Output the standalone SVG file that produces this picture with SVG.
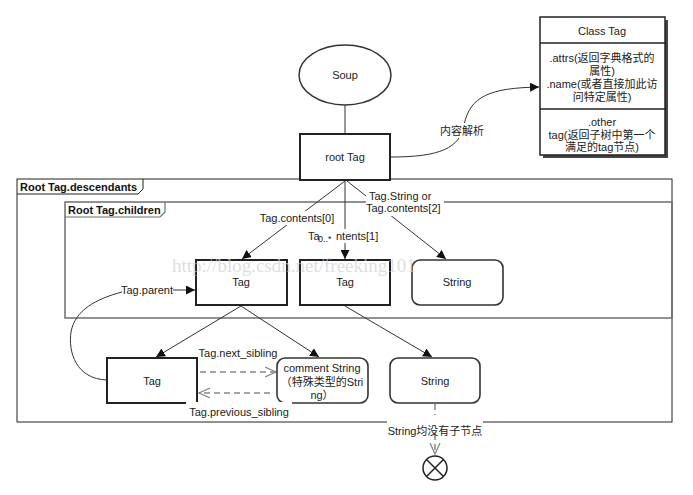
<svg xmlns="http://www.w3.org/2000/svg" width="693" height="495" viewBox="0 0 693 495">
<defs>
<style>
text{font-family:"Liberation Sans","Noto Sans CJK SC",sans-serif;font-size:11px;fill:#222}
.c{text-anchor:middle}
.b{font-weight:bold;fill:#111}
.box{fill:#fff;stroke:#222;stroke-width:2}
.rbox{fill:#fff;stroke:#333;stroke-width:1.6}
.ln{fill:none;stroke:#333;stroke-width:1}
.dash{fill:none;stroke:#888;stroke-width:1.5;stroke-dasharray:6,4}
.bg{fill:#fff}
.wm{font-family:"Liberation Serif",serif;font-size:19px;fill:#cfcfcf;fill-opacity:0.7}
</style>
<marker id="af" viewBox="0 0 10 10" refX="10" refY="5" markerWidth="9" markerHeight="9" markerUnits="userSpaceOnUse" orient="auto">
<path d="M0,0 L10,5 L0,10 z" fill="#111"/>
</marker>
<marker id="ao" viewBox="0 0 12 12" refX="11" refY="6" markerWidth="12" markerHeight="12" markerUnits="userSpaceOnUse" orient="auto">
<path d="M0,1 L11,6 L0,11" fill="none" stroke="#888" stroke-width="1.3"/>
</marker>
</defs>
<rect width="693" height="495" fill="#fff"/>

<g id="frame-descendants">
<rect x="17" y="179" width="655" height="243" fill="none" stroke="#222" stroke-width="1"/>
<path d="M17,194 L138,194 L143,189 L143,179" fill="none" stroke="#222" stroke-width="1"/>
<text x="20" y="191" class="b">Root Tag.descendants</text>
</g>
<g id="frame-children">
<rect x="65" y="202" width="607" height="116" fill="none" stroke="#6e6e6e" stroke-width="1.5"/>
<path d="M65,217 L160,217 L165,212 L165,202" fill="none" stroke="#6e6e6e" stroke-width="1.2"/>
<text x="68" y="214" class="b">Root Tag.children</text>
</g>

<g id="connectors">
<path class="ln" d="M345,105 L345,134" stroke="#444"/>
<path class="ln" d="M391,157 C440,157 460,148 464,125 C470,96 490,88 539,87" marker-end="url(#af)"/>
<path class="ln" d="M345,181 L242,259" marker-end="url(#af)"/>
<path class="ln" d="M345,181 L345,259" marker-end="url(#af)"/>
<path class="ln" d="M347,181 L446,259" marker-end="url(#af)"/>
<path class="ln" d="M241,306 L156,357" marker-end="url(#af)"/>
<path class="ln" d="M241,306 L319,357" marker-end="url(#af)"/>
<path class="ln" d="M345,306 L432,357" marker-end="url(#af)"/>
<path class="dash" d="M200,372 L276,372" marker-end="url(#ao)"/>
<path class="dash" d="M270,393 L199,393" marker-end="url(#ao)"/>
<path class="ln" d="M107,380 C76,379 68,352 71,332 C75,310 96,299 122,292"/>
<path class="ln" d="M173,290 L195,290" marker-end="url(#af)"/>
<path class="dash" d="M435,404 L435,454" marker-end="url(#ao)"/>

<rect class="bg" x="436" y="123" width="52" height="15"/>
<text x="462" y="135" class="c">内容解析</text>
<rect class="bg" x="258" y="211" width="78" height="14"/>
<text x="297" y="222" class="c">Tag.contents[0]</text>
<rect class="bg" x="307" y="229" width="80" height="14"/>
<text x="308" y="240">Ta</text>
<text x="318" y="242" style="font-size:9px">0..*</text>
<text x="336" y="240">ntents[1]</text>
<rect class="bg" x="366" y="190" width="78" height="26"/>
<text x="369" y="200">Tag.String or</text>
<text x="366" y="212">Tag.contents[2]</text>
<text x="121" y="294">Tag.parent</text>
<text x="238" y="357" class="c">Tag.next_sibling</text>
</g>

<g id="soup">
<ellipse cx="345" cy="75" rx="46" ry="30" fill="#fff" stroke="#333" stroke-width="1.5"/>
<text x="345" y="79" class="c">Soup</text>
</g>
<g id="root-tag">
<rect class="box" x="300" y="134" width="90" height="46"/>
<text x="345" y="161" class="c">root Tag</text>
</g>
<g id="class-tag">
<rect x="543" y="20" width="125" height="138" fill="#444"/>
<rect x="540" y="17" width="125" height="138" fill="#fff" stroke="#222" stroke-width="1.5"/>
<line x1="540" y1="43" x2="665" y2="43" stroke="#222" stroke-width="1.5"/>
<line x1="540" y1="109" x2="665" y2="109" stroke="#222" stroke-width="1.5"/>
<text x="602" y="35" class="c">Class Tag</text>
<text x="602" y="62" class="c">.attrs(返回字典格式的</text>
<text x="602" y="75" class="c">属性)</text>
<text x="602" y="88" class="c">.name(或者直接加此访</text>
<text x="602" y="101" class="c">问特定属性)</text>
<text x="602" y="126" class="c">.other</text>
<text x="602" y="139" class="c">tag(返回子树中第一个</text>
<text x="602" y="151" class="c">满足的tag节点)</text>
</g>
<g id="tag1">
<rect class="box" x="196" y="260" width="91" height="45"/>
<text x="241" y="286" class="c">Tag</text>
</g>
<g id="tag2">
<rect class="box" x="300" y="260" width="90" height="45"/>
<text x="345" y="286" class="c">Tag</text>
</g>
<g id="string1">
<rect class="rbox" x="412" y="260" width="91" height="45" rx="8"/>
<text x="457" y="286" class="c">String</text>
</g>
<g id="tag3">
<rect class="box" x="107" y="358" width="90" height="45"/>
<text x="152" y="385" class="c">Tag</text>
</g>
<g id="comment-string">
<rect class="rbox" x="277" y="358" width="91" height="45" rx="8"/>
<text x="322" y="372" class="c">comment String</text>
<text x="322" y="386" class="c">（特殊类型的Stri</text>
<text x="322" y="399" class="c">ng）</text>
</g>
<g id="string2">
<rect class="rbox" x="390" y="358" width="90" height="45" rx="8"/>
<text x="435" y="385" class="c">String</text>
</g>
<g id="labels-over">
<rect class="bg" x="186" y="402" width="106" height="17"/>
<text x="239" y="416" class="c">Tag.previous_sibling</text>
<rect class="bg" x="387" y="423" width="96" height="16" transform="translate(0,-8)"/>
<text x="435" y="435" class="c">String均没有子节点</text>
</g>
<g id="end">
<circle cx="435" cy="468" r="12" fill="#fff" stroke="#222" stroke-width="1.5"/>
<path d="M426.5,459.5 L443.5,476.5 M443.5,459.5 L426.5,476.5" stroke="#222" stroke-width="1.5"/>
</g>
<text x="172" y="272" class="wm">http://blog.csdn.net/freeking101</text>
</svg>
